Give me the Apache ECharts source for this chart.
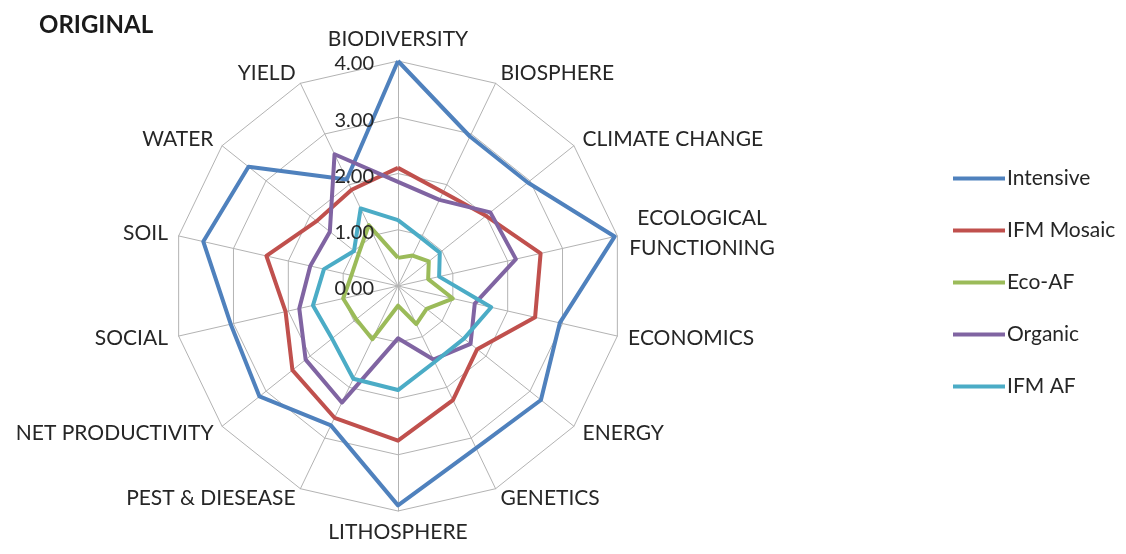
<!DOCTYPE html>
<html>
<head>
<meta charset="utf-8">
<script src="https://cdn.jsdelivr.net/npm/echarts@6/dist/echarts.min.js"></script>
<style>
  html, body { margin: 0; padding: 0; background: #ffffff; }
  #chart { width: 1126px; height: 554px; }
</style>
</head>
<body>
<div id="chart"></div>
<script>
// Sustainability dimensions, clockwise from the top
const dimensions = [
  'BIODIVERSITY', 'BIOSPHERE', 'CLIMATE CHANGE', 'ECOLOGICAL\nFUNCTIONING',
  'ECONOMICS', 'ENERGY', 'GENETICS', 'LITHOSPHERE', 'PEST & DIESEASE',
  'NET PRODUCTIVITY', 'SOCIAL', 'SOIL', 'WATER', 'YIELD'
];

// Scenario names (legend order)
const scenarios = ['Intensive', 'IFM Mosaic', 'Eco-AF', 'Organic', 'IFM AF'];

// Scores per scenario, one value per dimension
const intensive = [4.00, 2.95, 2.95, 3.95, 2.95, 3.25, 3.20, 3.90, 2.75, 3.15, 3.05, 3.55, 3.40, 2.10];
const ifmMosaic = [2.10, 1.85, 2.00, 2.60, 2.50, 1.80, 2.25, 2.75, 2.60, 2.40, 2.05, 2.40, 1.85, 1.90];
const ecoAF     = [0.50, 0.60, 0.70, 0.55, 1.00, 0.65, 0.75, 0.35, 1.05, 0.95, 1.00, 0.85, 0.90, 1.20];
const organic   = [1.85, 1.70, 2.10, 2.15, 1.40, 1.65, 1.45, 0.93, 2.30, 2.10, 1.80, 1.60, 1.55, 2.60];
const ifmAF     = [1.17, 0.95, 0.95, 0.75, 1.70, 1.50, 1.50, 1.85, 1.83, 1.50, 1.55, 1.35, 1.00, 1.53];

// Score scale
const scaleMin = 0;
const scaleMax = 4;
const scaleStep = 1;

const colors = ['#4f81bd', '#c0504d', '#9bbb59', '#8064a2', '#4bacc6'];
const seriesValues = [intensive, ifmMosaic, ecoAF, organic, ifmAF];

// ECharts lays radar axes out counter-clockwise; keep the first axis on top
// and walk the rest backwards so the dimensions run clockwise.
const order = dimensions.map((_, i) => (i === 0 ? 0 : dimensions.length - i));
const axisOrder = (arr) => order.map((i) => arr[i]);

const FONT = 'Lato, "Open Sans", sans-serif';
const TEXT = '#262626';

const cx = 398, cy = 286, R = 225;

const chart = echarts.init(document.getElementById('chart'), null, { renderer: 'canvas' });

chart.setOption({
  backgroundColor: '#ffffff',
  animation: false,
  title: {
    text: 'ORIGINAL',
    left: 34,
    top: 8,
    textStyle: { fontFamily: FONT, fontSize: 24, fontWeight: 'bold', color: '#1a1a1a' }
  },
  legend: {
    orient: 'vertical',
    left: 948,
    top: 163,
    icon: 'rect',
    itemWidth: 52,
    itemHeight: 4,
    itemGap: 31,
    data: scenarios,
    textStyle: { fontFamily: FONT, fontSize: 21, color: TEXT, lineHeight: 21, padding: [0, 0, 0, -3] }
  },
  // value scale printed up the top axis, above the lines
  grid: { left: cx, top: cy - R + 3, width: 1, height: R },
  xAxis: { type: 'value', show: false },
  yAxis: {
    type: 'value',
    z: 10,
    min: scaleMin,
    max: scaleMax,
    interval: scaleStep,
    axisLine: { show: false },
    axisTick: { show: false },
    splitLine: { show: false },
    axisLabel: {
      margin: 24,
      fontFamily: FONT,
      fontSize: 20,
      color: TEXT,
      formatter: (v) => v.toFixed(2)
    }
  },
  radar: {
    center: [cx, cy],
    radius: R,
    startAngle: 90,
    shape: 'polygon',
    splitNumber: (scaleMax - scaleMin) / scaleStep,
    nameGap: 11,
    indicator: axisOrder(dimensions).map((d) => ({ name: d, min: scaleMin, max: scaleMax })),
    axisName: {
      color: TEXT,
      fontFamily: FONT,
      fontSize: 21,
      formatter: (name) => name.indexOf('\n') >= 0
        ? name.split('\n').map((s) => '{c|' + s + '}').join('\n')
        : name,
      rich: {
        c: { width: 148, align: 'center', color: TEXT, fontFamily: FONT, fontSize: 21, lineHeight: 30 }
      }
    },
    axisLine: { lineStyle: { color: '#b3b3b3', width: 1 } },
    splitLine: { lineStyle: { color: '#b3b3b3', width: 1 } },
    splitArea: { show: false },
    axisLabel: { show: false },
    axisTick: { show: false }
  },
  series: [{
    type: 'radar',
    symbol: 'none',
    data: scenarios.map((name, i) => ({
      name: name,
      value: axisOrder(seriesValues[i]),
      itemStyle: { color: colors[i] },
      lineStyle: { color: colors[i], width: 4 }
    }))
  }]
});
</script>
</body>
</html>
